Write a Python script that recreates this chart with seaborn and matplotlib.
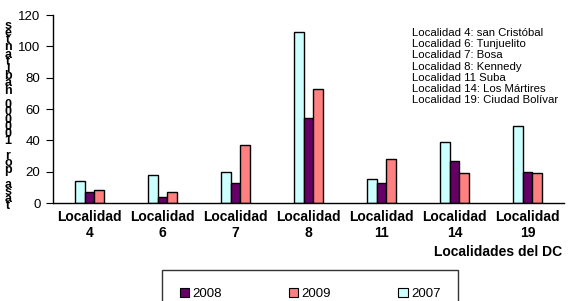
import matplotlib
matplotlib.use("Agg")
import matplotlib.pyplot as plt
import seaborn as sns
import pandas as pd
from matplotlib.patches import Patch

categories = ["Localidad\n4", "Localidad\n6", "Localidad\n7", "Localidad\n8",
              "Localidad\n11", "Localidad\n14", "Localidad\n19"]
years = ["2007", "2008", "2009"]
v2007 = [14, 18, 20, 109, 15.5, 39, 49]
v2008 = [7, 4, 13, 54, 13, 27, 20]
v2009 = [8.5, 7, 37, 73, 28, 19, 19]
yticks = [0, 20, 40, 60, 80, 100, 120]
notes = ["Localidad 4: san Cristóbal", "Localidad 6: Tunjuelito", "Localidad 7: Bosa",
         "Localidad 8: Kennedy", "Localidad 11 Suba", "Localidad 14: Los Mártires",
         "Localidad 19: Ciudad Bolívar"]
ylabel = "tasa por 100000 habitantes"
xlabel = "Localidades del DC"
colors = {"2007": "#CCFFFF", "2008": "#660066", "2009": "#FF8080"}
legend_order = ["2008", "2009", "2007"]

df = pd.DataFrame({
    "cat": categories * 3,
    "year": ["2007"] * 7 + ["2008"] * 7 + ["2009"] * 7,
    "val": v2007 + v2008 + v2009,
})

sns.set_theme(style="white")
plt.rcParams["font.family"] = ["Liberation Sans", "DejaVu Sans"]
plt.rcParams["text.color"] = "black"
plt.rcParams["xtick.color"] = "black"
plt.rcParams["ytick.color"] = "black"

fig = plt.figure(figsize=(5.81, 3.01), dpi=100)
ax = fig.add_axes([53 / 581, 1 - 203 / 301, (564 - 53) / 581, (203 - 15) / 301])
sns.barplot(data=df, x="cat", y="val", hue="year", hue_order=years, order=categories,
            palette=colors, width=0.41, edgecolor="black", linewidth=1.0,
            saturation=1, ax=ax, legend=False)

ax.set_xlim(-0.5, 6.5)
ax.set_ylim(0, 120)
ax.set_yticks(yticks)
ax.set_yticklabels([str(t) for t in yticks], fontsize=9.5)
ax.set_xticks(range(len(categories)))
ax.set_xticklabels(categories, fontsize=10, fontweight="bold", linespacing=1.15)
ax.set_xticks([i - 0.5 for i in range(len(categories) + 1)], minor=True)
ax.tick_params(axis="x", which="major", length=0, pad=5)
ax.tick_params(axis="x", which="minor", length=4, width=0.8, color="black", direction="out")
ax.tick_params(axis="y", length=5, width=0.8, color="black", direction="out", pad=4, left=True)
ax.set_xlabel("")
ax.set_ylabel("")
for s in ["top", "right"]:
    ax.spines[s].set_visible(False)
for s in ["left", "bottom"]:
    ax.spines[s].set_color("black")
    ax.spines[s].set_linewidth(1.0)

# x-axis title
fig.text(562 / 581, 1 - 252 / 301, xlabel, ha="right", va="center", fontsize=10, fontweight="bold")

# notes block
fig.text(412 / 581, 1 - 28 / 301, "\n".join(notes), ha="left", va="top", fontsize=8.2,
         linespacing=1.15)

# stacked y-label characters, read bottom to top
fig.text(8 / 581, 1 - 116 / 301, "\n".join(reversed(list(ylabel))), ha="center",
         va="center", fontsize=9, fontweight="bold", linespacing=0.47,
         multialignment="center")

handles = [Patch(facecolor=colors[y], edgecolor="black", linewidth=0.8, label=y)
           for y in legend_order]
leg = fig.legend(handles=handles, loc="upper left", bbox_to_anchor=(162 / 581, 1 - 270 / 301),
                 ncol=3, fontsize=9.5, frameon=True, fancybox=False, shadow=False,
                 borderpad=1.35, handlelength=0.7, handleheight=0.7, handletextpad=0.25,
                 columnspacing=5.1, borderaxespad=0)
leg.get_frame().set_edgecolor("black")
leg.get_frame().set_linewidth(1.0)

fig.savefig("out.png", dpi=100)
